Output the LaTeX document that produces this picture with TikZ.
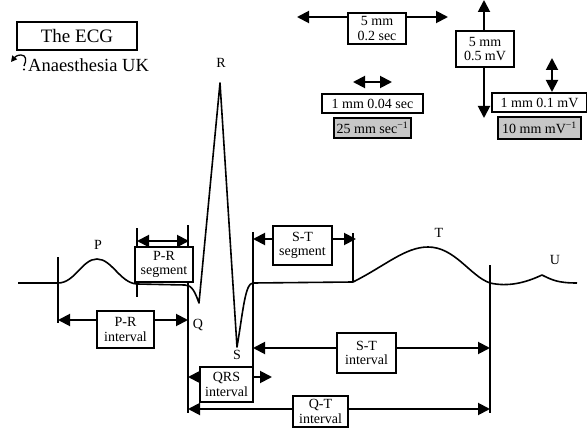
\documentclass[tikz,border=0pt]{standalone}
\usepackage{fontspec}
\setmainfont{Liberation Serif}
\usetikzlibrary{arrows.meta, positioning}
\tikzset{
  ecgbox/.style={draw, line width=1.9pt, fill=white, align=center, inner sep=0pt,
    font=\fontsize{14}{14.5}\selectfont},
  greybox/.style={ecgbox, fill=black!22},
  titlebox/.style={draw, line width=2pt, inner sep=0pt, font=\fontsize{19}{19}\selectfont},
  wavelabel/.style={inner sep=0pt, font=\fontsize{14}{14}\selectfont}
}
\tikzset{
  dimarrow/.style={line width=1.9pt,
    {Triangle[length=12pt,width=12pt]}-{Triangle[length=12pt,width=12pt]}},
  marker/.style={line width=1.9pt},
  trace/.style={line width=1.6pt, line join=round}
}

\begin{document}
\begin{tikzpicture}[x=1pt, y=-1pt]
      \useasboundingbox (0,0) rectangle (587,428);
      % title and logo
      \node[titlebox, minimum width=120pt, minimum height=28pt] (title) at (77,36) {The ECG};
      \node[anchor=west, inner sep=0pt, font=\fontsize{18.5}{18.5}\selectfont] (auk) at (28,65) {Anaesthesia UK};
      \draw[line width=1.3pt, -{Triangle[length=6pt,width=6pt]}]
        (24,66) .. controls (27,60) and (26,55) .. (21,55) .. controls (17,55) and (15,57) .. (11,62);
      \fill (24,69.5) circle (1.2pt);
      % scale arrows
      \coordinate (tL) at (297,17);   \coordinate (tR) at (448,17);
      \coordinate (vT) at (484,0);    \coordinate (vB) at (484,118);
      \coordinate (tsL) at (353,82);  \coordinate (tsR) at (392,82);
      \coordinate (vsT) at (552,58);  \coordinate (vsB) at (552,92);
      \foreach \a/\b in {tL/tR, vT/vB, tsL/tsR, vsT/vsB}
        \draw[dimarrow] (\a) -- (\b);
      \node[ecgbox, minimum width=58pt, minimum height=31pt] (bigtime) at (377,28.5) {5 mm\\0.2 sec};
      \node[ecgbox, minimum width=58pt, minimum height=36pt] (bigvolt) at (485,49) {5 mm\\0.5 mV};
      \node[ecgbox, minimum width=101pt, minimum height=19pt] (smalltime) at (372.5,103.5) {1 mm 0.04 sec};
      \node[greybox, minimum width=77pt, minimum height=20pt, below=3pt of smalltime] (speed) {25 mm sec\textsuperscript{−1}};
      \node[ecgbox, minimum width=95pt, minimum height=19pt] (smallvolt) at (539.5,102.5) {1 mm 0.1 mV};
      \node[greybox, minimum width=83pt, minimum height=22pt, below=3pt of smallvolt] (gain) {10 mm mV\textsuperscript{−1}};
      % interval markers
      \foreach \x/\ya/\yb in {58/257/323, 137/228/297, 188/225/413, 253/232/402, 353/233/282, 490/265/413}
        \draw[marker] (\x,\ya) -- (\x,\yb);
      % the trace
      \draw[trace] (18,283) -- (58,283)
        .. controls (75,283) and (82,259) .. (97,259)
        .. controls (112,259) and (120,283) .. (137,284)
        -- (185,285) .. controls (192,285) and (195,292) .. (199,303)
        -- (220,83) -- (237,347)
        .. controls (243,312) and (245,283) .. (253,283)
        -- (353,282)
        .. controls (385,266) and (405,247) .. (428,247)
        .. controls (455,247) and (470,276) .. (490,283)
        .. controls (508,287) and (525,283) .. (542,275)
        .. controls (552,280) and (558,283) .. (577,283);
      \node[wavelabel] (P) at (98,245) {P};
      \node[wavelabel] (Q) at (198,325) {Q};
      \node[wavelabel] (R) at (221,63) {R};
      \node[wavelabel] (S) at (237,355) {S};
      \node[wavelabel] (T) at (439,233) {T};
      \node[wavelabel] (U) at (555,260) {U};
      % interval arrows
      \coordinate (prsL) at (137,241);  \coordinate (prsR) at (189,241);
      \coordinate (priL) at (58,320);   \coordinate (priR) at (188,320);
      \coordinate (qrsL) at (188,377);  \coordinate (qrsR) at (272,377);
      \coordinate (stsL) at (253,239);  \coordinate (stsR) at (356,239);
      \coordinate (stiL) at (253,348);  \coordinate (stiR) at (490,348);
      \coordinate (qtL) at (188,409);   \coordinate (qtR) at (490,409);
      \foreach \a/\b in {prsL/prsR, priL/priR, qrsL/qrsR, stsL/stsR, stiL/stiR, qtL/qtR}
        \draw[dimarrow] (\a) -- (\b);
      \node[ecgbox, minimum width=58pt, minimum height=35pt] (prseg) at (164,264.5) {P-R\\segment};
      \node[ecgbox, minimum width=57pt, minimum height=37pt] (print) at (125.5,329.5) {P-R\\interval};
      \node[ecgbox, minimum width=53pt, minimum height=35pt] (qrsint) at (226.5,384.5) {QRS\\interval};
      \node[ecgbox, minimum width=59pt, minimum height=39pt] (stseg) at (302.5,245.5) {S-T\\segment};
      \node[ecgbox, minimum width=59pt, minimum height=40pt] (stint) at (366.5,353) {S-T\\interval};
      \node[ecgbox, minimum width=55pt, minimum height=31pt] (qtint) at (320.5,411.5) {Q-T\\interval};
\end{tikzpicture}
\end{document}
